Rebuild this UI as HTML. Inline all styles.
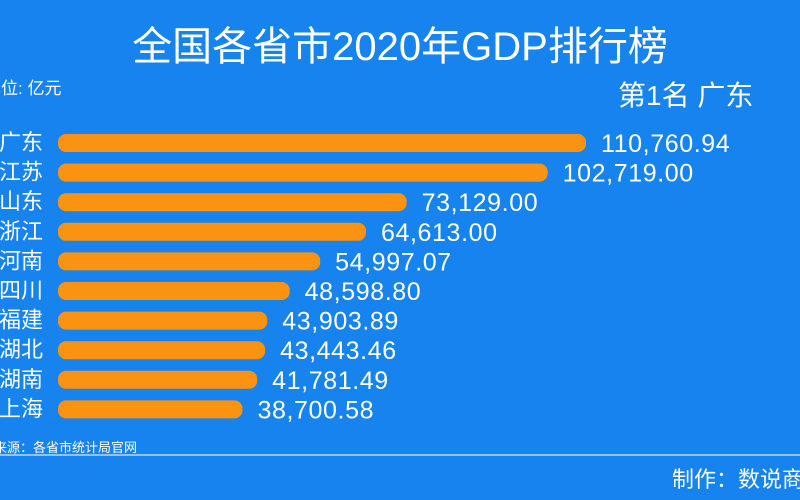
<!DOCTYPE html>
<html><head><meta charset="utf-8"><style>
body{margin:0;width:800px;height:500px;overflow:hidden;background:#1683ef;font-family:"Liberation Sans","Noto Sans CJK SC",sans-serif;color:#fff}
.t{position:absolute;white-space:nowrap}
</style></head><body>
<div class="t" style="left:0;width:800px;text-align:center;top:14px;font-size:40px">全国各省市2020年GDP排行榜</div>
<div class="t" style="left:-16px;top:74px;font-size:17px">单位: 亿元</div>
<div class="t" style="left:618px;top:74px;font-size:28px">第1名 广东</div>
<svg id="c" width="800" height="500" style="position:absolute;left:0;top:0"></svg>
<div class="t" style="left:-6px;top:437px;font-size:13px">来源：各省市统计局官网</div>
<div style="position:absolute;left:0;top:454px;width:800px;height:2px;background:#8cc4f7"></div>
<div class="t" style="left:672px;top:462px;font-size:22px">制作：数说商</div>
<script>
const categories=["广东","江苏","山东","浙江","河南","四川","福建","湖北","湖南","上海"];
const values=[110760.94,102719.00,73129.00,64613.00,54997.07,48598.80,43903.89,43443.46,41781.49,38700.58];
const svg=document.getElementById('c');
const NS='http://www.w3.org/2000/svg';
const x0=58, scale=(586-58)/110760.94;
const x=v=>x0+v*scale;
const y=i=>143+i*29.6;
categories.forEach((c,i)=>{
  const cy=y(i);
  const r=document.createElementNS(NS,'rect');
  r.setAttribute('x',x0);r.setAttribute('y',cy-9);r.setAttribute('width',x(values[i])-x0);r.setAttribute('height',18);r.setAttribute('rx',8);r.setAttribute('fill','#fb9312');
  
  
  svg.appendChild(r);
  const l=document.createElementNS(NS,'text');
  l.setAttribute('x',43);l.setAttribute('y',cy+7);l.setAttribute('text-anchor','end');l.setAttribute('fill','#fff');l.setAttribute('font-size','22');
  l.textContent=c;
  
  
  svg.appendChild(l);
  const t=document.createElementNS(NS,'text');
  t.setAttribute('x',x(values[i])+15);t.setAttribute('y',cy+9);t.setAttribute('fill','#fff');t.setAttribute('font-size','25');t.setAttribute('letter-spacing','0.6');
  t.textContent=values[i].toLocaleString('en-US',{minimumFractionDigits:2,maximumFractionDigits:2});
  
  
  svg.appendChild(t);
});
</script>
</body></html>
